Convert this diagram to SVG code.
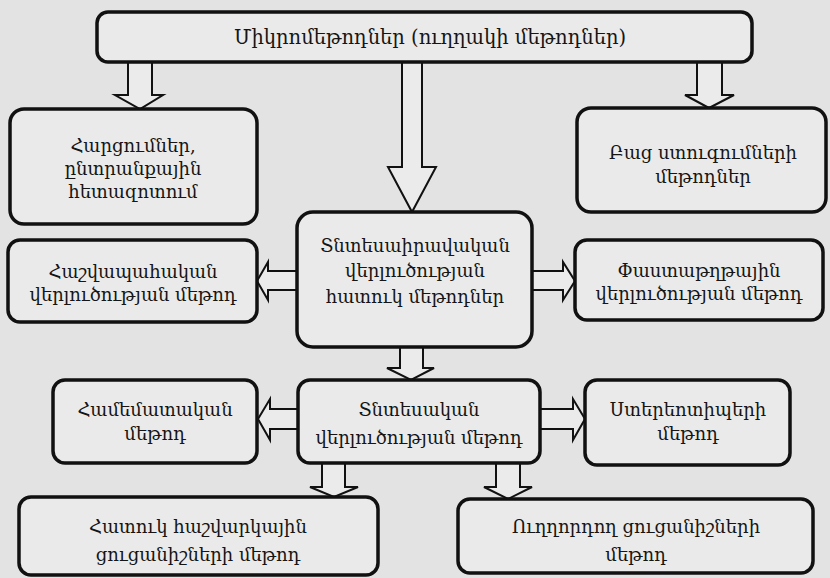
<svg xmlns="http://www.w3.org/2000/svg" width="830" height="578" viewBox="0 0 830 578">
<style>
.bg{fill:#e3e3e3}
.box{fill:#eaeaea;stroke:#111;stroke-width:3.5}
.arr{fill:#ebebeb;stroke:#111;stroke-width:2;stroke-linejoin:miter}
text{font-family:"DejaVu Serif","Noto Sans","DejaVu Sans",serif;font-size:18px;fill:#151515;text-anchor:middle}
.big{font-size:19.5px}
</style>
<rect class="bg" x="0" y="0" width="830" height="578"/>
<g id="connectors">
<polygon class="arr" points="128,62 152,62 152,95 163,95 140,109 115,95 128,95"/>
<polygon class="arr" points="402,62 422,62 422,167 436,167 412,212 388,167 402,167"/>
<polygon class="arr" points="697,62 722,62 722,95 734,95 709,108 685,95 697,95"/>
<polygon class="arr" points="297,271 268,271 268,262 257,281 268,300 268,290 297,290"/>
<polygon class="arr" points="532,271 563,271 563,262 575,281 563,300 563,290 532,290"/>
<polygon class="arr" points="400,347 423,347 423,368 434,368 411,380 387,368 400,368"/>
<polygon class="arr" points="298,409 270,409 270,399 258,419 270,440 270,429 298,429"/>
<polygon class="arr" points="540,409 573,409 573,399 585,419 573,440 573,429 540,429"/>
<polygon class="arr" points="322,463 345,463 345,487 358,487 334,497 310,487 322,487"/>
<polygon class="arr" points="496,463 520,463 520,487 532,487 508,499 484,487 496,487"/>
</g>
<g id="n-top">
<rect class="box" x="97" y="12" width="655" height="50" rx="11"/>
<text class="big" x="430" y="44">Միկրոմեթոդներ (ուղղակի մեթոդներ)</text>
</g>
<g id="n-surveys">
<rect class="box" x="10" y="109" width="247" height="115" rx="14"/>
<text x="133" y="152">Հարցումներ,</text>
<text x="133" y="175">ընտրանքային</text>
<text x="133" y="198">հետազոտում</text>
</g>
<g id="n-open">
<rect class="box" x="577" y="108" width="249" height="104" rx="14"/>
<text x="703" y="159">Բաց ստուգումների</text>
<text x="703" y="183">մեթոդներ</text>
</g>
<g id="n-legal">
<rect class="box" x="297" y="212" width="235" height="135" rx="16"/>
<text x="415" y="252">Տնտեսաիրավական</text>
<text x="415" y="277">վերլուծության</text>
<text x="415" y="303">հատուկ մեթոդներ</text>
</g>
<g id="n-accounting">
<rect class="box" x="8" y="240" width="249" height="82" rx="12"/>
<text x="133" y="278">Հաշվապահական</text>
<text x="133" y="301">վերլուծության մեթոդ</text>
</g>
<g id="n-documentary">
<rect class="box" x="575" y="240" width="248" height="80" rx="12"/>
<text x="699" y="277">Փաստաթղթային</text>
<text x="699" y="300">վերլուծության մեթոդ</text>
</g>
<g id="n-economic">
<rect class="box" x="298" y="380" width="242" height="83" rx="12"/>
<text x="419" y="416">Տնտեսական</text>
<text x="419" y="444">վերլուծության մեթոդ</text>
</g>
<g id="n-comparative">
<rect class="box" x="53" y="380" width="204" height="83" rx="12"/>
<text x="155" y="416">Համեմատական</text>
<text x="155" y="440">մեթոդ</text>
</g>
<g id="n-stereotype">
<rect class="box" x="585" y="380" width="205" height="85" rx="12"/>
<text x="688" y="416">Ստերեոտիպերի</text>
<text x="688" y="440">մեթոդ</text>
</g>
<g id="n-special">
<rect class="box" x="19" y="497" width="359" height="78" rx="12"/>
<text x="198" y="533">Հատուկ հաշվարկային</text>
<text x="198" y="561">ցուցանիշների մեթոդ</text>
</g>
<g id="n-guiding">
<rect class="box" x="458" y="499" width="355" height="74" rx="12"/>
<text x="636" y="533">Ուղղորդող ցուցանիշների</text>
<text x="636" y="561">մեթոդ</text>
</g>
</svg>
